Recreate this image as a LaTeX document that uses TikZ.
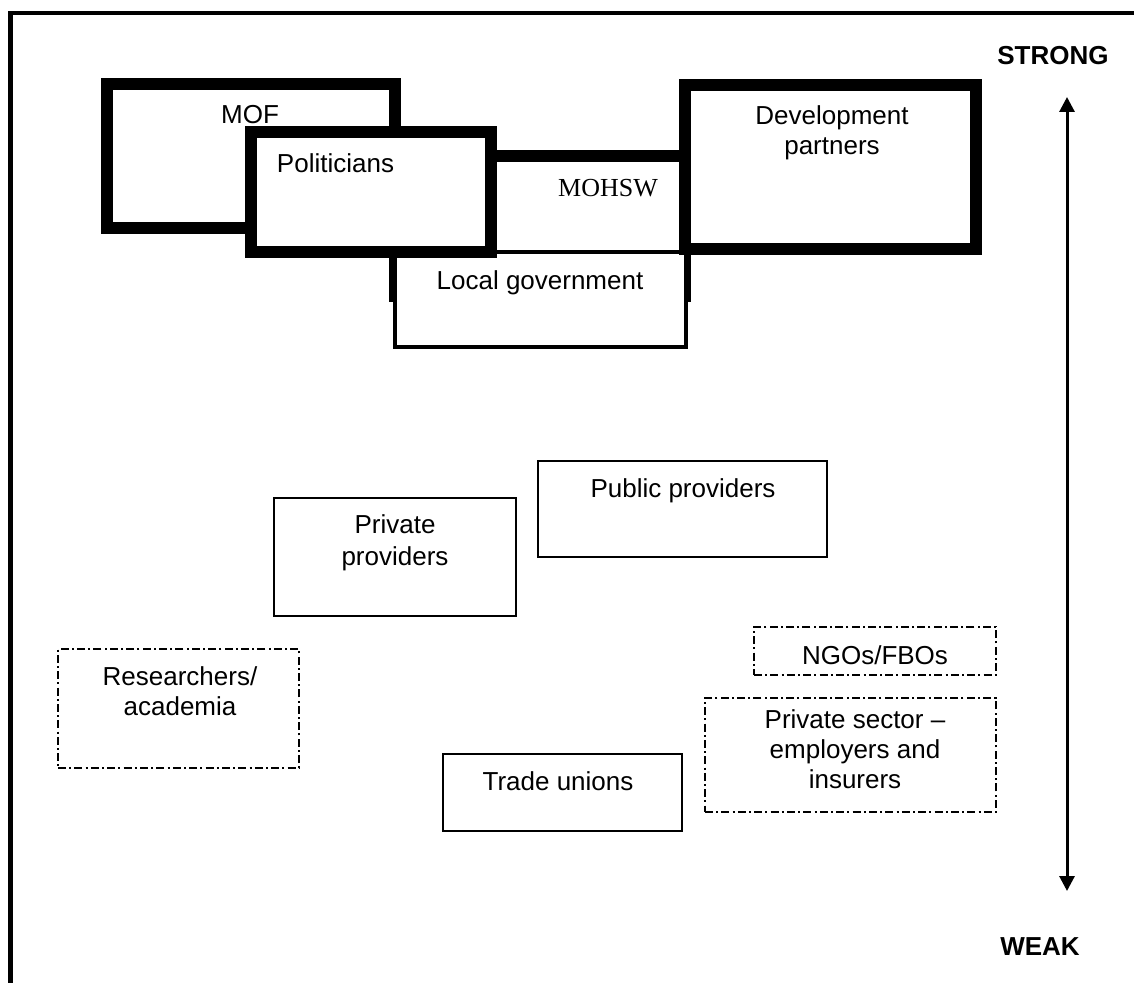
\documentclass[tikz,border=0pt]{standalone}
\usepackage{fontspec}
\setmainfont{Liberation Sans}
\newfontfamily\timesfont{Liberation Serif}
\usetikzlibrary{arrows.meta}
\begin{document}
\begin{tikzpicture}[x=0.5pt,y=-0.5pt,
  heavybox/.style={draw, line width=6pt, fill=white, inner sep=0pt},
  midbox/.style={draw, line width=2.25pt, fill=white, inner sep=0pt},
  thinbox/.style={draw, line width=1pt, inner sep=0pt},
  dashbox/.style={thinbox, dash pattern=on 4pt off 1.6pt on 1pt off 1.6pt},
  lbl/.style={anchor=base, inner sep=0pt, align=center,
    font=\fontsize{13pt}{15pt}\selectfont},
  endlabel/.style={anchor=base, inner sep=0pt,
    font=\fontsize{13pt}{15pt}\selectfont\bfseries},
  axis/.style={line width=1.5pt,
    {Triangle[width=7.5pt,length=7.5pt]}-{Triangle[width=7.5pt,length=7.5pt]}}
]
\useasboundingbox (0,0) rectangle (1134,983);

% outer frame: left and top rules only
\coordinate (fbl) at (10.5,990);
\coordinate (ftl) at (10.5,13);
\coordinate (ftr) at (1140,13);
\draw[line width=2.25pt] (fbl) -- (ftl) -- (ftr);

% strong actors, overlapping heavy boxes
\node[heavybox, minimum width=145pt, minimum height=70pt] (mohsw) at (540,226) {};
\node[midbox, minimum width=145.5pt, minimum height=47.5pt] (lgov) at (540.5,299.5) {};
\node[heavybox, minimum width=144pt, minimum height=72pt] (mof) at (251,156) {};
\node[heavybox, minimum width=120pt, minimum height=60pt] (pol) at (371,192) {};
\node[heavybox, minimum width=145.5pt, minimum height=82pt] (dev) at (830.5,167) {};

% weaker actors
\node[thinbox, minimum width=121pt, minimum height=59pt] (privp) at (395,557) {};
\node[thinbox, minimum width=144.5pt, minimum height=48pt] (pubp) at (682.5,509) {};
\node[thinbox, minimum width=119.5pt, minimum height=38.5pt] (trade) at (562.5,792.5) {};
\node[dashbox, minimum width=120.5pt, minimum height=59.5pt] (res) at (178.5,708.5) {};
\node[dashbox, minimum width=121pt, minimum height=24pt] (ngo) at (875,651) {};
\node[dashbox, minimum width=145.5pt, minimum height=57pt] (privs) at (850.5,755) {};

% labels (multi-line labels sit on the baseline of their last line)
\node[lbl] (moft) at (250,124) {MOF};
\node[lbl] (polt) at (335.5,173) {Politicians};
\node[lbl, font=\fontsize{13pt}{15pt}\timesfont] (mohswt) at (608,197) {MOHSW};
\node[lbl] (lgovt) at (540,290) {Local government};
\node[lbl] (devt) at (832,155) {Development\\partners};
\node[lbl, font=\fontsize{13pt}{16pt}\selectfont] (privpt) at (395,565) {Private\\providers};
\node[lbl] (pubpt) at (683,497) {Public providers};
\node[lbl] (rest) at (180,715) {Researchers/\\academia};
\node[lbl] (ngot) at (875,664) {NGOs/FBOs};
\node[lbl] (privst) at (855,788) {Private sector –\\employers and\\insurers};
\node[lbl] (tradet) at (558,790) {Trade unions};

% strength scale
\node[endlabel] (strong) at (1053,65) {STRONG};
\node[endlabel] (weak) at (1040,955) {WEAK};
\coordinate (up) at (1067,97);
\coordinate (down) at (1067,891);
\draw[axis] (up) -- (down);
\end{tikzpicture}
\end{document}
